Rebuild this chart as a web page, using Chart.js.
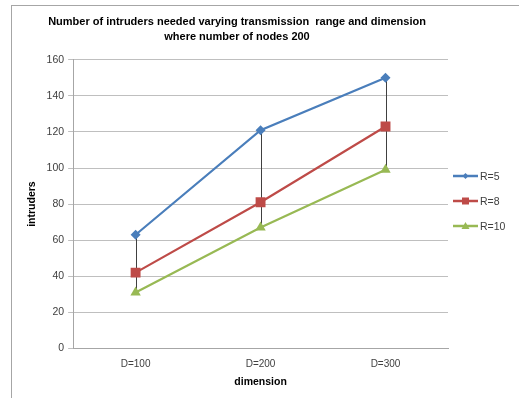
<!DOCTYPE html>
<html>
<head>
<meta charset="utf-8">
<script src="https://cdn.jsdelivr.net/npm/chart.js@4"></script>
<style>
    html, body { margin: 0; padding: 0; background: #fff; }
    #wrap { position: relative; width: 519px; height: 398px; }
    #frame { position: absolute; left: 11px; top: 5px; right: -2px; bottom: -2px; border-left: 1px solid #a6a6a6; border-top: 1px solid #a6a6a6; }
    canvas { position: absolute; left: 0; top: 0; }
</style>
</head>
<body>
<div id="wrap">
    <div id="frame"></div>
    <canvas id="chart" width="519" height="398"></canvas>
</div>
<script>
// Data
const categories = ['D=100', 'D=200', 'D=300'];
const seriesNames = ['R=5', 'R=8', 'R=10'];
const r5 = [63, 121, 150];
const r8 = [42, 81, 123];
const r10 = [31, 67, 99];
const yTicks = [0, 20, 40, 60, 80, 100, 120, 140, 160];

const FONT = '"Liberation Sans", Arial, sans-serif';

/**
 * Draws the black high-low lines between the top and bottom series
 */
const highLowLines = {
    id: 'highLowLines',
    beforeDatasetsDraw(chart) {
        const { ctx, scales } = chart;
        ctx.save();
        ctx.strokeStyle = '#404040';
        ctx.lineWidth = 1;
        categories.forEach((_, i) => {
            const vals = chart.data.datasets.map(d => d.data[i]);
            const x = Math.round(scales.x.getPixelForValue(i)) + 0.5;
            ctx.beginPath();
            ctx.moveTo(x, scales.y.getPixelForValue(Math.max(...vals)));
            ctx.lineTo(x, scales.y.getPixelForValue(Math.min(...vals)));
            ctx.stroke();
        });
        ctx.restore();
    }
};

/**
 * Excel-style legend: line sample with marker, then label
 */
const sideLegend = {
    id: 'sideLegend',
    afterDraw(chart) {
        const { ctx, chartArea } = chart;
        const x0 = chartArea.right + 5;
        const y0 = 176;
        ctx.save();
        chart.data.datasets.forEach((ds, i) => {
            const y = y0 + i * 25;
            ctx.strokeStyle = ds.borderColor;
            ctx.lineWidth = 2.5;
            ctx.beginPath();
            ctx.moveTo(x0, y);
            ctx.lineTo(x0 + 25, y);
            ctx.stroke();
            ctx.fillStyle = ds.borderColor;
            const cx = x0 + 12.5;
            ctx.beginPath();
            if (ds.pointStyle === 'rectRot') {
                ctx.moveTo(cx, y - 3); ctx.lineTo(cx + 3, y); ctx.lineTo(cx, y + 3); ctx.lineTo(cx - 3, y);
            } else if (ds.pointStyle === 'rect') {
                ctx.rect(cx - 3.5, y - 3.5, 7, 7);
            } else {
                ctx.moveTo(cx, y - 4); ctx.lineTo(cx + 4, y + 3); ctx.lineTo(cx - 4, y + 3);
            }
            ctx.closePath();
            ctx.fill();
            ctx.fillStyle = '#404040';
            ctx.font = '10.5px ' + FONT;
            ctx.textBaseline = 'middle';
            ctx.fillText(ds.label, x0 + 27, y + 1);
        });
        ctx.restore();
    }
};

const colors = ['#4a7ebb', '#be4b48', '#98b954'];
const styles = ['rectRot', 'rect', 'triangle'];
const radii = [5, 7, 6];

new Chart(document.getElementById('chart'), {
    type: 'line',
    data: {
        labels: categories,
        datasets: [r5, r8, r10].map((vals, i) => ({
            label: seriesNames[i],
            data: vals,
            borderColor: colors[i],
            backgroundColor: colors[i],
            borderWidth: 2.2,
            pointStyle: styles[i],
            pointRadius: radii[i],
            pointBorderWidth: 0,
            tension: 0
        }))
    },
    options: {
        responsive: false,
        animation: false,
        layout: { padding: { left: 26, right: 71, top: 14, bottom: 10 } },
        plugins: {
            legend: { display: false },
            tooltip: { enabled: false },
            title: {
                display: true,
                text: ['Number of intruders needed varying transmission  range and dimension', 'where number of nodes 200'],
                color: '#000',
                font: { family: FONT, size: 11, weight: 'bold', lineHeight: 1.4 },
                padding: { top: 0, bottom: 15 }
            }
        },
        scales: {
            x: {
                offset: true,
                grid: { display: false, drawTicks: false },
                border: { color: '#a6a6a6' },
                ticks: { color: '#404040', font: { family: FONT, size: 10 }, padding: 10 },
                title: {
                    display: true, text: 'dimension', color: '#000',
                    font: { family: FONT, size: 10.5, weight: 'bold' }, padding: { top: -5, bottom: 0 }
                }
            },
            y: {
                min: 0,
                max: 160,
                afterBuildTicks: (axis) => { axis.ticks = yTicks.map(v => ({ value: v })); },
                grid: { color: '#bfbfbf', tickLength: 5 },
                border: { color: '#a6a6a6' },
                ticks: { color: '#404040', font: { family: FONT, size: 10.5 }, padding: 4 },
                title: {
                    display: true, text: 'intruders', color: '#000',
                    font: { family: FONT, size: 10.5, weight: 'bold' }, padding: { top: 0, bottom: 4 }
                }
            }
        }
    },
    plugins: [highLowLines, sideLegend]
});
</script>
</body>
</html>
